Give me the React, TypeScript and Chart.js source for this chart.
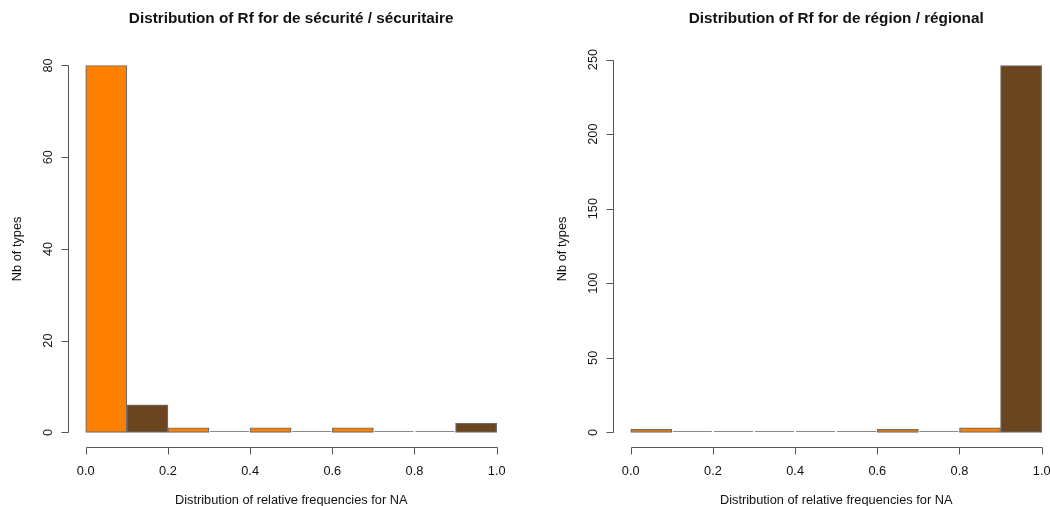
import React, { useEffect, useRef } from 'react';
import { Chart, registerables } from 'chart.js';

Chart.register(...registerables);

// ---- data ----
const BIN_STARTS = [0.0, 0.1, 0.2, 0.3, 0.4, 0.5, 0.6, 0.7, 0.8, 0.9];
const BIN_WIDTH = 0.1;
const LEFT_COUNTS = [80, 6, 1, 0, 1, 0, 1, 0, 0, 2];
const RIGHT_COUNTS = [2, 0, 0, 0, 0, 0, 2, 0, 3, 246];
const X_TICKS = [0.0, 0.2, 0.4, 0.6, 0.8, 1.0];
const X_TICK_LABELS = ['0.0', '0.2', '0.4', '0.6', '0.8', '1.0'];
const LEFT_Y_TICKS = [0, 20, 40, 60, 80];
const RIGHT_Y_TICKS = [0, 50, 100, 150, 200, 250];
const LEFT_TITLE = 'Distribution of Rf for de sécurité / sécuritaire';
const RIGHT_TITLE = 'Distribution of Rf for de région / régional';
const X_TITLE = 'Distribution of relative frequencies for NA';
const Y_TITLE = 'Nb of types';

// ---- style ----
const FONT = '"Liberation Sans", Arial, Helvetica, sans-serif';
const ORANGE = '#FF8000';
const BROWN = '#6B4420';
const BAR_BORDER = '#6c6c6c';
const AXIS_COLOR = '#555555';
const TEXT_COLOR = '#111111';
const AXIS_FONT_SIZE = 12.8;
const TITLE_FONT_SIZE = 15.3;
const CANVAS_W = 548;
const CANVAS_H = 506;
const TICK_LEN = 7;

const rAxesPlugin = {
  id: 'rAxes',
  afterDatasetsDraw(chart: any, _args: any, opts: any) {
    const { ctx } = chart;
    const meta = chart.getDatasetMeta(0);
    const counts: number[] = opts.counts;
    ctx.save();
    ctx.strokeStyle = '#8a8a8a';
    ctx.lineWidth = 1;
    meta.data.forEach((bar: any, i: number) => {
      if (counts[i] === 0) {
        const yy = Math.round(bar.base) - 0.5;
        ctx.beginPath();
        ctx.moveTo(bar.x - bar.width / 2 + 1, yy);
        ctx.lineTo(bar.x + bar.width / 2 - 1, yy);
        ctx.stroke();
      }
    });
    ctx.restore();
  },
  afterDraw(chart: any, _args: any, opts: any) {
    const { ctx, chartArea } = chart;
    const xs = chart.scales.x;
    const ys = chart.scales.y;
    const yTicks: number[] = opts.yTicks;
    ctx.save();
    ctx.strokeStyle = AXIS_COLOR;
    ctx.lineWidth = 1;
    // x axis line + ticks
    const yb = Math.round(chartArea.bottom) + 0.5;
    ctx.beginPath();
    ctx.moveTo(Math.round(xs.getPixelForValue(X_TICKS[0])) + 0.5, yb);
    ctx.lineTo(Math.round(xs.getPixelForValue(X_TICKS[X_TICKS.length - 1])) + 0.5, yb);
    X_TICKS.forEach((v) => {
      const px = Math.round(xs.getPixelForValue(v)) + 0.5;
      ctx.moveTo(px, yb);
      ctx.lineTo(px, yb + TICK_LEN);
    });
    ctx.stroke();
    // y axis line + ticks
    const xl = Math.round(chartArea.left) - 0.5;
    ctx.beginPath();
    ctx.moveTo(xl, Math.round(ys.getPixelForValue(yTicks[0])) + 0.5);
    ctx.lineTo(xl, Math.round(ys.getPixelForValue(yTicks[yTicks.length - 1])) + 0.5);
    yTicks.forEach((v) => {
      const py = Math.round(ys.getPixelForValue(v)) + 0.5;
      ctx.moveTo(xl, py);
      ctx.lineTo(xl - TICK_LEN, py);
    });
    ctx.stroke();
    // y tick labels (rotated, parallel to axis)
    ctx.fillStyle = TEXT_COLOR;
    ctx.font = `${AXIS_FONT_SIZE}px ${FONT}`;
    ctx.textAlign = 'center';
    ctx.textBaseline = 'alphabetic';
    yTicks.forEach((v) => {
      ctx.save();
      ctx.translate(chartArea.left - 17.5, ys.getPixelForValue(v));
      ctx.rotate(-Math.PI / 2);
      ctx.fillText(String(v), 0, 0);
      ctx.restore();
    });
    ctx.restore();
  },
};

function HistChart({ counts, yTicks, title, left }: { counts: number[]; yTicks: number[]; title: string; left: number }) {
  const ref = useRef<HTMLCanvasElement | null>(null);
  useEffect(() => {
    if (!ref.current) return;
    const maxCount = Math.max(...counts);
    const chart = new Chart(ref.current, {
      type: 'bar',
      data: {
        datasets: [
          {
            data: BIN_STARTS.map((s, i) => ({ x: s + BIN_WIDTH / 2, y: counts[i] })),
            backgroundColor: counts.map((_, i) => (i % 2 === 0 ? ORANGE : BROWN)),
            borderColor: BAR_BORDER,
            borderWidth: 1.2,
            borderSkipped: false,
            barPercentage: 1,
            categoryPercentage: 1,
          },
        ],
      },
      options: {
        responsive: false,
        animation: false,
        devicePixelRatio: 1,
        layout: { padding: { left: 0, right: 34.9, top: 0, bottom: 0 } },
        plugins: {
          legend: { display: false },
          tooltip: { enabled: false },
          title: {
            display: true,
            text: title,
            fullSize: false,
            color: TEXT_COLOR,
            font: { family: FONT, size: TITLE_FONT_SIZE, weight: 'bold' },
            padding: { top: 9.5, bottom: 22.94 },
          },
          rAxes: { counts, yTicks },
        } as any,
        scales: {
          x: {
            type: 'linear',
            min: -0.04,
            max: 1.04,
            offset: false,
            grid: { display: false, drawTicks: false, offset: false },
            border: { display: false },
            afterBuildTicks: (scale: any) => {
              scale.ticks = X_TICKS.map((v) => ({ value: v }));
            },
            afterFit: (scale: any) => {
              scale.height = 59;
            },
            ticks: {
              autoSkip: false,
              maxRotation: 0,
              padding: 17,
              color: TEXT_COLOR,
              font: { family: FONT, size: AXIS_FONT_SIZE },
              callback: (_v: any, i: number) => X_TICK_LABELS[i],
            },
            title: {
              display: true,
              text: X_TITLE,
              color: TEXT_COLOR,
              font: { family: FONT, size: AXIS_FONT_SIZE },
              padding: { top: 0, bottom: -1.8 },
            },
          },
          y: {
            type: 'linear',
            min: -0.04 * maxCount,
            max: 1.04 * maxCount,
            grid: { display: false, drawTicks: false },
            border: { display: false },
            afterBuildTicks: (scale: any) => {
              scale.ticks = yTicks.map((v) => ({ value: v }));
            },
            afterFit: (scale: any) => {
              scale.width = 69.3;
            },
            ticks: { display: false },
            title: {
              display: true,
              text: Y_TITLE,
              color: TEXT_COLOR,
              font: { family: FONT, size: AXIS_FONT_SIZE },
              padding: { top: 10, bottom: 0 },
            },
          },
        },
      } as any,
      plugins: [rAxesPlugin],
    });
    return () => chart.destroy();
  }, [counts, yTicks, title]);
  return (
    <canvas
      ref={ref}
      width={CANVAS_W}
      height={CANVAS_H}
      style={{ position: 'absolute', left, top: 0, width: CANVAS_W, height: CANVAS_H }}
    />
  );
}

export default function App() {
  return (
    <div
      style={{
        position: 'fixed',
        left: 0,
        top: 0,
        width: 1050,
        height: 506,
        overflow: 'hidden',
        background: '#ffffff',
      }}
    >
      <HistChart counts={LEFT_COUNTS} yTicks={LEFT_Y_TICKS} title={LEFT_TITLE} left={0} />
      <HistChart counts={RIGHT_COUNTS} yTicks={RIGHT_Y_TICKS} title={RIGHT_TITLE} left={545.3} />
    </div>
  );
}
